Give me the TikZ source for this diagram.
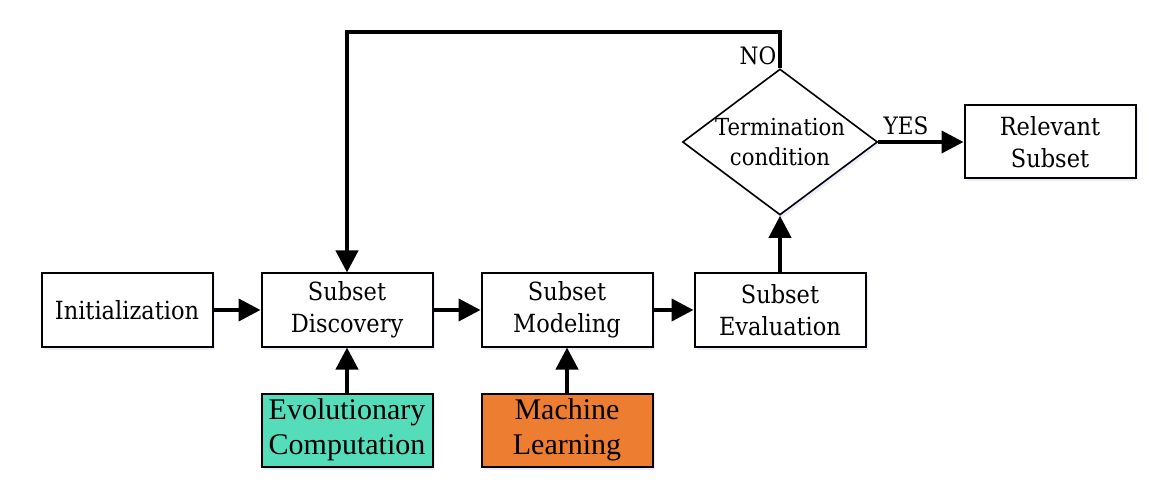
\documentclass[tikz,border=0pt]{standalone}
\usepackage{fontspec}
\setmainfont{DejaVu Serif}[FakeStretch=0.9]
\newfontfamily\timesfont{Liberation Serif}
\usetikzlibrary{arrows.meta, shapes.geometric, shadows}

\definecolor{evogreen}{HTML}{55DDBB}
\definecolor{mlorange}{HTML}{ED7D31}

\begin{document}
\begin{tikzpicture}[x=1pt, y=-1pt,
    box/.style={draw, line width=2pt, fill=white, minimum width=171pt,
      minimum height=73pt, align=center,
      font=\fontsize{25}{32}\selectfont,
      drop shadow={opacity=0.3, fill=blue!25, shadow xshift=2pt, shadow yshift=-3pt}},
    bigbox/.style={box, font=\timesfont\fontsize{30}{35}\selectfont},
    cond/.style={draw, diamond, line width=1.6pt, fill=white, minimum width=195pt,
      minimum height=146pt, inner xsep=-30pt, inner ysep=-10pt, align=center,
      font=\fontsize{23.5}{30}\selectfont,
      drop shadow={opacity=0.3, fill=blue!25, shadow xshift=2pt, shadow yshift=-3pt}},
    tag/.style={font=\fontsize{24}{26}\selectfont, inner sep=1pt},
    flow/.style={line width=4pt, -{Triangle[length=22pt, width=22pt]}}]
    \useasboundingbox (0, 0) rectangle (1175, 486);

    \node[box] (init) at (127, 310) {Initialization};
    \node[box] (disc) at (347, 310) {Subset\\Discovery};
    \node[box] (model) at (567, 310) {Subset\\Modeling};
    \node[box] (eval) at (780, 310) {Subset\\Evaluation};
    \node[bigbox, fill=evogreen] (evo) at (347, 430) {Evolutionary\\Computation};
    \node[bigbox, fill=mlorange] (ml) at (567, 430) {Machine\\Learning};
    \node[cond] (term) at (780, 142) {Termination\\condition};
    \node[box] (rel) at (1050, 142) {Relevant\\Subset};

    \node[tag] (no) at (758, 56) {NO};
    \node[tag] (yes) at (906, 126) {YES};
    \coordinate (loop) at (780, 32);

    \draw[flow] (init) -- (disc);
    \draw[flow] (disc) -- (model);
    \draw[flow] (model) -- (eval);
    \draw[flow] (evo) -- (disc);
    \draw[flow] (ml) -- (model);
    \draw[flow] (eval) -- (term);
    \draw[flow] (term) -- (rel);
    \draw[flow] (term.north) -- (loop) -| (disc.north);
\end{tikzpicture}
\end{document}
